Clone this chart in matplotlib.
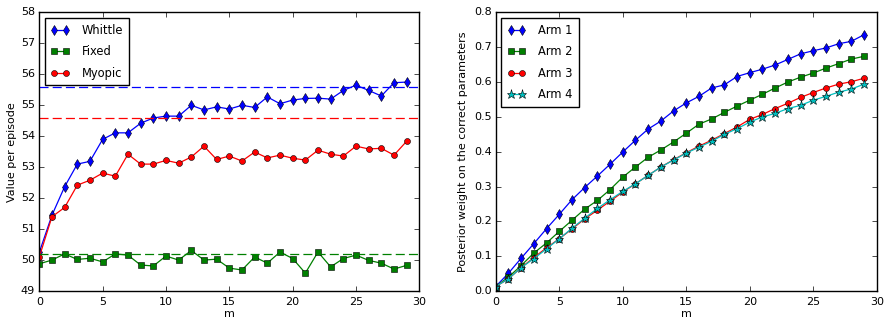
import matplotlib
matplotlib.use("Agg")
import matplotlib.pyplot as plt
import numpy as np

m = list(range(30))

whittle = [50.25, 51.45, 52.37, 53.10, 53.19, 53.90, 54.11, 54.11, 54.42, 54.59,
           54.65, 54.65, 55.00, 54.85, 54.95, 54.88, 55.00, 54.93, 55.27, 55.05,
           55.17, 55.22, 55.23, 55.20, 55.48, 55.65, 55.48, 55.30, 55.73, 55.75]
fixed = [49.88, 50.00, 50.20, 50.02, 50.06, 49.94, 50.20, 50.16, 49.84, 49.81,
         50.13, 50.00, 50.31, 50.00, 50.03, 49.74, 49.68, 50.10, 49.90, 50.26,
         50.05, 49.58, 50.26, 49.78, 50.05, 50.16, 49.99, 49.90, 49.71, 49.83]
myopic = [50.10, 51.40, 51.70, 52.42, 52.58, 52.81, 52.71, 53.42, 53.10, 53.10,
          53.22, 53.13, 53.33, 53.68, 53.25, 53.36, 53.20, 53.49, 53.30, 53.39,
          53.29, 53.23, 53.55, 53.42, 53.36, 53.68, 53.59, 53.61, 53.39, 53.84]
whittle_ref = 55.58
myopic_ref = 54.58
fixed_ref = 50.20

arm1 = [0.013, 0.051, 0.094, 0.136, 0.179, 0.220, 0.262, 0.297, 0.330, 0.364,
        0.399, 0.433, 0.465, 0.488, 0.517, 0.540, 0.559, 0.583, 0.592, 0.616,
        0.627, 0.637, 0.649, 0.665, 0.681, 0.690, 0.698, 0.710, 0.717, 0.736]
arm2 = [0.013, 0.040, 0.073, 0.109, 0.138, 0.171, 0.203, 0.235, 0.260, 0.291,
        0.327, 0.356, 0.384, 0.405, 0.428, 0.453, 0.479, 0.494, 0.513, 0.531,
        0.548, 0.565, 0.583, 0.600, 0.614, 0.626, 0.640, 0.653, 0.666, 0.674]
arm3 = [0.013, 0.035, 0.067, 0.096, 0.124, 0.150, 0.178, 0.207, 0.232, 0.258,
        0.284, 0.308, 0.332, 0.356, 0.377, 0.397, 0.416, 0.433, 0.452, 0.471,
        0.493, 0.507, 0.524, 0.539, 0.556, 0.570, 0.583, 0.594, 0.601, 0.611]
arm4 = [0.013, 0.035, 0.067, 0.093, 0.121, 0.150, 0.180, 0.209, 0.237, 0.262,
        0.286, 0.308, 0.332, 0.356, 0.376, 0.396, 0.413, 0.430, 0.450, 0.466,
        0.485, 0.500, 0.510, 0.524, 0.533, 0.548, 0.559, 0.571, 0.580, 0.594]

plt.style.use('classic')
plt.rcParams.update({
    'font.family': ['DejaVu Sans'],
    'font.size': 8.0,
    'figure.facecolor': 'white',
    'savefig.facecolor': 'white',
    'xtick.major.size': 3.5,
    'ytick.major.size': 3.5,
    'xtick.minor.size': 2,
    'ytick.minor.size': 2,
    'xtick.major.pad': 4,
    'ytick.major.pad': 3,
    'axes.linewidth': 1.0,
})

fig = plt.figure(figsize=(8.89, 3.27), dpi=100)
ax1 = fig.add_axes([0.0442, 0.110, 0.4275, 0.852])
ax2 = fig.add_axes([0.5576, 0.110, 0.4286, 0.852])

lw = 0.9
mk = dict(markeredgecolor='k', markeredgewidth=0.4)
leg_kw = dict(loc='upper left', fontsize=8.3, numpoints=2, borderaxespad=0.5,
              handlelength=1.6, handletextpad=1.1, labelspacing=0.72,
              borderpad=0.5)

ax1.plot(m, whittle, color='b', marker='d', ms=5.0, lw=lw, label='Whittle', **mk)
ax1.plot(m, fixed, color='g', marker='s', ms=3.8, lw=lw, label='Fixed', **mk)
ax1.plot(m, myopic, color='r', marker='o', ms=4.3, lw=lw, label='Myopic', **mk)
for val, c in [(whittle_ref, 'b'), (myopic_ref, 'r'), (fixed_ref, 'g')]:
    ax1.axhline(val, color=c, lw=lw, ls='--', dashes=(6.5, 3))
ax1.set_xlim(0, 30)
ax1.set_ylim(49, 58)
ax1.set_xlabel('m', labelpad=2)
ax1.set_ylabel('Value per episode', labelpad=3)
ax1.legend(**leg_kw)

ax2.plot(m, arm1, color='b', marker='d', ms=5.0, lw=lw, label='Arm 1', **mk)
ax2.plot(m, arm2, color='g', marker='s', ms=3.8, lw=lw, label='Arm 2', **mk)
ax2.plot(m, arm3, color='r', marker='o', ms=4.3, lw=lw, label='Arm 3', **mk)
ax2.plot(m, arm4, color='c', marker='*', ms=6.5, lw=lw, label='Arm 4', **mk)
ax2.set_xlim(0, 30)
ax2.set_ylim(0, 0.8)
ax2.set_xlabel('m', labelpad=2)
ax2.set_ylabel('Posterior weight on the correct parameters', labelpad=4)
ax2.legend(**leg_kw)

fig.savefig('out.png', dpi=100)
